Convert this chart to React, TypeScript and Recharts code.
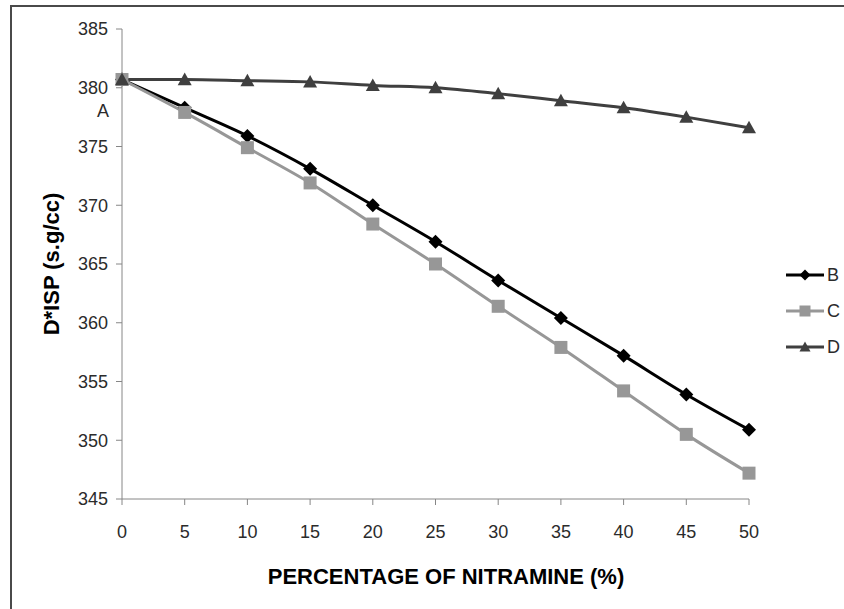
import React from "react";
import { LineChart, Line, XAxis, YAxis, Legend, Label } from "recharts";

const nitramine = [0, 5, 10, 15, 20, 25, 30, 35, 40, 45, 50];
const seriesB = [380.7, 378.3, 375.9, 373.1, 370.0, 366.9, 363.6, 360.4, 357.2, 353.9, 350.9];
const seriesC = [380.7, 377.9, 374.9, 371.9, 368.4, 365.0, 361.4, 357.9, 354.2, 350.5, 347.2];
const seriesD = [380.7, 380.7, 380.6, 380.5, 380.2, 380.0, 379.5, 378.9, 378.3, 377.5, 376.6];
const xTicks = [0, 5, 10, 15, 20, 25, 30, 35, 40, 45, 50];
const yTicks = [345, 350, 355, 360, 365, 370, 375, 380, 385];

const data = nitramine.map((x, i) => ({ x, B: seriesB[i], C: seriesC[i], D: seriesD[i] }));

const FONT = "'Liberation Sans', Arial, sans-serif";
const AXIS_GREY = "#868686";
const TEXT = "#2b2b2b";

const colors = { B: "#000000", C: "#979797", D: "#3f3f3f" };

function diamond(cx: number, cy: number, r: number) {
  return `M${cx},${cy - r}L${cx + r},${cy}L${cx},${cy + r}L${cx - r},${cy}Z`;
}
function square(cx: number, cy: number, r: number) {
  return `M${cx - r},${cy - r}H${cx + r}V${cy + r}H${cx - r}Z`;
}
function triangle(cx: number, cy: number, r: number) {
  return `M${cx},${cy - r}L${cx + r},${cy + r * 0.8}L${cx - r},${cy + r * 0.8}Z`;
}

const shapes: Record<string, (cx: number, cy: number, r: number) => string> = {
  B: diamond,
  C: square,
  D: triangle,
};

const makeDot = (name: "B" | "C" | "D", r: number) => (props: any) => {
  const { cx, cy, index } = props;
  if (cx == null || cy == null) return <g key={`${name}-${index}`} />;
  return <path key={`${name}-${index}`} d={shapes[name](cx, cy, r)} fill={colors[name]} />;
};

const YTick = (props: any) => {
  const { x, y, payload } = props;
  return (
    <g>
      <text x={x} y={y} dy="0.35em" textAnchor="end" fontSize={18} fontFamily={FONT} fill={TEXT}>
        {payload.value}
      </text>
      {payload.value === 380 && (
        <text x={x + 1} y={y + 23} dy="0.35em" textAnchor="end" fontSize={18} fontFamily={FONT} fill={TEXT}>
          A
        </text>
      )}
    </g>
  );
};

const LegendBox = () => {
  const items: ("B" | "C" | "D")[] = ["B", "C", "D"];
  return (
    <div style={{ fontFamily: FONT, fontSize: 18, color: TEXT }}>
      {items.map((k) => (
        <div key={k} style={{ display: "flex", alignItems: "center", height: 36 }}>
          <svg width={40} height={16} style={{ display: "block" }}>
            <line x1={0} y1={8} x2={38} y2={8} stroke={colors[k]} strokeWidth={3} />
            <path d={shapes[k](19, 8, 5.5)} fill={colors[k]} />
          </svg>
          <span style={{ marginLeft: 1 }}>{k}</span>
        </div>
      ))}
    </div>
  );
};

export default function App() {
  return (
    <div style={{ position: "absolute", left: 0, top: 0, width: 844, height: 609, background: "#fff" }}>
      <div
        style={{
          position: "absolute",
          left: 10,
          top: 5,
          right: 0,
          bottom: 0,
          borderTop: "2px solid #4a4a4a",
          borderLeft: "2px solid #4a4a4a",
        }}
      />
      <LineChart
        width={844}
        height={609}
        data={data}
        margin={{ top: 29, right: 95, bottom: 0, left: 0 }}
        style={{ position: "absolute", left: 0, top: 0 }}
      >
        <XAxis
          dataKey="x"
          type="number"
          domain={[0, 50]}
          ticks={xTicks}
          height={110}
          stroke={AXIS_GREY}
          tickSize={6}
          tickMargin={20}
          tick={{ fontSize: 18, fontFamily: FONT, fill: TEXT }}
        >
          <Label
            content={() => (
              <text x={446} y={584} textAnchor="middle" fontSize={22} fontWeight="bold" fontFamily={FONT} fill="#000">
                PERCENTAGE OF NITRAMINE (%)
              </text>
            )}
          />
        </XAxis>
        <YAxis
          type="number"
          domain={[345, 385]}
          ticks={yTicks}
          width={122}
          stroke={AXIS_GREY}
          tickSize={6}
          tickMargin={8}
          tick={<YTick />}
        >
          <Label
            content={() => (
              <text
                x={51}
                y={264}
                textAnchor="middle"
                dominantBaseline="central"
                transform="rotate(-90 51 264)"
                fontSize={22}
                fontWeight="bold"
                fontFamily={FONT}
                fill="#000"
              >
                D*ISP (s.g/cc)
              </text>
            )}
          />
        </YAxis>
        <Legend
          layout="vertical"
          align="center"
          verticalAlign="middle"
          content={<LegendBox />}
          wrapperStyle={{ position: "absolute", left: 786, top: 257, width: 58 }}
        />
        <Line
          dataKey="B"
          name="B"
          type="monotone"
          stroke={colors.B}
          strokeWidth={3}
          dot={makeDot("B", 7)}
          activeDot={false}
          isAnimationActive={false}
        />
        <Line
          dataKey="C"
          name="C"
          type="monotone"
          stroke={colors.C}
          strokeWidth={3}
          dot={makeDot("C", 6.5)}
          activeDot={false}
          isAnimationActive={false}
        />
        <Line
          dataKey="D"
          name="D"
          type="monotone"
          stroke={colors.D}
          strokeWidth={3}
          dot={makeDot("D", 7)}
          activeDot={false}
          isAnimationActive={false}
        />
      </LineChart>
    </div>
  );
}
